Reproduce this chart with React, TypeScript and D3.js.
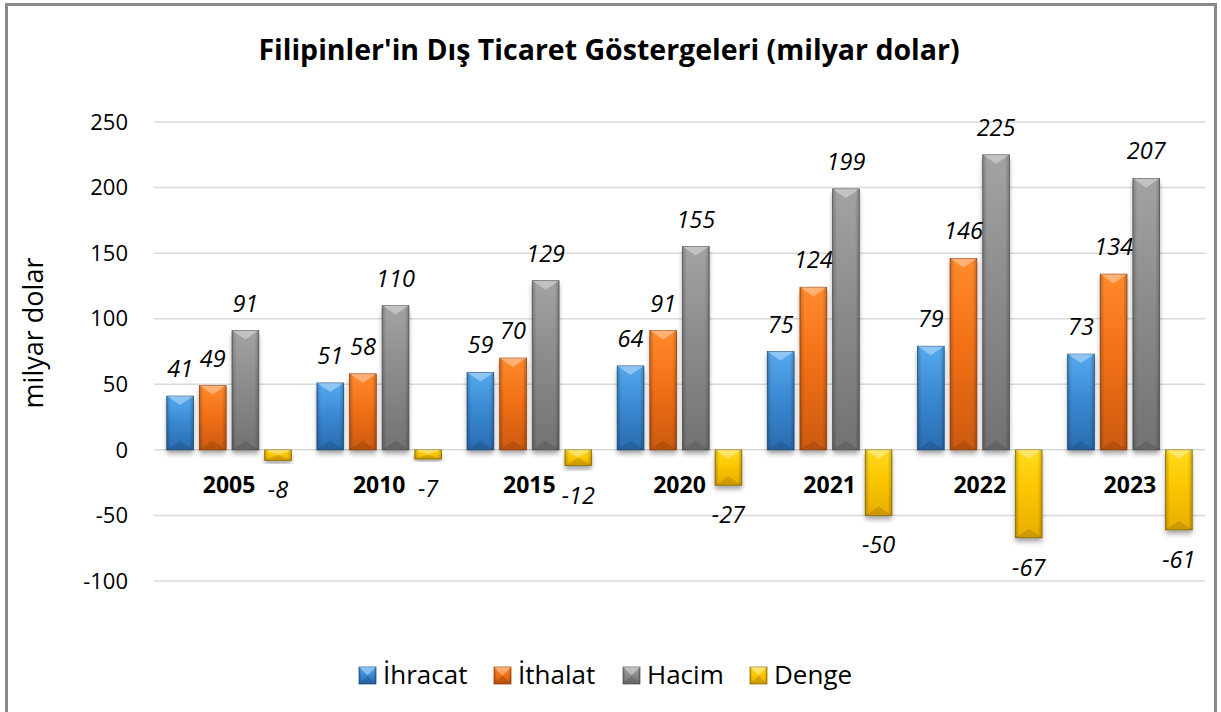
import React from 'react';
import * as d3 from 'd3';

const years = ['2005', '2010', '2015', '2020', '2021', '2022', '2023'];
const ihracat = [41, 51, 59, 64, 75, 79, 73];
const ithalat = [49, 58, 70, 91, 124, 146, 134];
const hacim = [91, 110, 129, 155, 199, 225, 207];
const denge = [-8, -7, -12, -27, -50, -67, -61];
const seriesNames = ['İhracat', 'İthalat', 'Hacim', 'Denge'];
const yTicks = [-100, -50, 0, 50, 100, 150, 200, 250];
const titleText = "Filipinler'in Dış Ticaret Göstergeleri (milyar dolar)";
const axisTitle = 'milyar dolar';

const seriesValues = [ihracat, ithalat, hacim, denge];
const palette = [
  { light: '#55a9ee', base: '#3b8bd4', dark: '#2a6cb0', stroke: '#24598f' },
  { light: '#ff8a2c', base: '#f37116', dark: '#cc5a10', stroke: '#a8470b' },
  { light: '#a3a3a3', base: '#8c8c8c', dark: '#727272', stroke: '#5e5e5e' },
  { light: '#ffdc1c', base: '#fcc600', dark: '#e9ae00', stroke: '#9c7800' },
];
const legendX = [359, 494, 623, 750];

const W = 1221;
const H = 712;
const FONT = "'Open Sans', 'Noto Sans', sans-serif";

function Bar({ x, y, w, h, i, shadow = true }: { x: number; y: number; w: number; h: number; i: number; shadow?: boolean }) {
  const bv = Math.min(9, h / 2);
  const c = palette[i];
  return (
    <g>
      {shadow && <rect x={x} y={y} width={w} height={h} fill="#000" opacity={0.35} filter="url(#shadow)" />}
      <rect x={x} y={y} width={w} height={h} fill={`url(#vg${i})`} stroke={c.stroke} strokeWidth={0.8} />
      <rect x={x} y={y} width={w} height={h} fill="url(#sideShade)" />
      <polygon points={`${x},${y} ${x + w},${y} ${x + w / 2},${y + bv}`} fill="#fff" opacity={0.35} />
      <polygon points={`${x},${y + h} ${x + w},${y + h} ${x + w / 2},${y + h - bv}`} fill="#000" opacity={0.12} />
    </g>
  );
}

export default function App() {
  const x0 = d3.scaleBand<string>().domain(years).range([154, 1205]).paddingInner(0.17).paddingOuter(0.085);
  const x1 = d3.scaleBand<number>().domain([0, 1, 2, 3]).range([0, x0.bandwidth()]).paddingInner(0.18);
  const y = d3.scaleLinear().domain([-100, 250]).range([581, 122]);

  return (
    <div style={{ position: 'absolute', left: 0, top: 0 }}>
      <svg width={W} height={H} style={{ display: 'block' }} fontFamily={FONT}>
        <defs>
          {palette.map((c, i) => (
            <linearGradient key={i} id={`vg${i}`} x1="0" y1="0" x2="0" y2="1">
              <stop offset="0" stopColor={c.light} />
              <stop offset="0.45" stopColor={c.base} />
              <stop offset="1" stopColor={c.dark} />
            </linearGradient>
          ))}
          <linearGradient id="sideShade" x1="0" y1="0" x2="1" y2="0">
            <stop offset="0" stopColor="#000" stopOpacity={0.22} />
            <stop offset="0.16" stopColor="#000" stopOpacity={0} />
            <stop offset="0.84" stopColor="#000" stopOpacity={0} />
            <stop offset="1" stopColor="#000" stopOpacity={0.22} />
          </linearGradient>
          <filter id="shadow" x="-30%" y="-30%" width="160%" height="160%">
            <feOffset dx="0" dy="4" />
            <feGaussianBlur stdDeviation="2.5" />
          </filter>
        </defs>
        <rect x={6.5} y={4.5} width={1209} height={720} fill="#fff" stroke="#898989" strokeWidth={3} />

        <text x={609} y={60} textAnchor="middle" fontWeight="bold" fontSize={28.5} fill="#000">{titleText}</text>

        {yTicks.map((t) => (
          <g key={t}>
            <line x1={154} x2={1205} y1={y(t)} y2={y(t)} stroke="#d9d9d9" strokeWidth={1.5} />
            <text x={128} y={y(t)} dy="0.35em" textAnchor="end" fontSize={22} fill="#000">{t}</text>
          </g>
        ))}

        <text transform={`translate(43,333) rotate(-90)`} textAnchor="middle" fontSize={27} fill="#000">{axisTitle}</text>

        {years.map((yr, gi) => (
          <g key={yr}>
            {seriesValues.map((vals, si) => {
              const v = vals[gi];
              const bx = (x0(yr) as number) + (x1(si) as number);
              const bw = x1.bandwidth();
              const top = y(Math.max(0, v));
              const bot = y(Math.min(0, v));
              return <Bar key={si} x={bx} y={top} w={bw} h={bot - top} i={si} />;
            })}
          </g>
        ))}

        {years.map((yr, gi) => (
          <g key={'l' + yr}>
            {seriesValues.map((vals, si) => {
              const v = vals[gi];
              const cx = (x0(yr) as number) + (x1(si) as number) + x1.bandwidth() / 2;
              const ly = v >= 0 ? y(v) - 19 : y(v) + 38;
              return (
                <text key={si} x={cx} y={ly} textAnchor="middle" fontStyle="italic" fontSize={23.5} fill="#000">{v}</text>
              );
            })}
            <text x={(x0(yr) as number) + x0.bandwidth() / 2} y={493} textAnchor="middle" fontWeight="bold" fontSize={23} fill="#000">{yr}</text>
          </g>
        ))}

        {seriesNames.map((n, i) => (
          <g key={n}>
            <Bar x={legendX[i]} y={667} w={17} h={17} i={i} shadow={false} />
            <text x={legendX[i] + 24} y={684} fontSize={26} fill="#000">{n}</text>
          </g>
        ))}
      </svg>
    </div>
  );
}
